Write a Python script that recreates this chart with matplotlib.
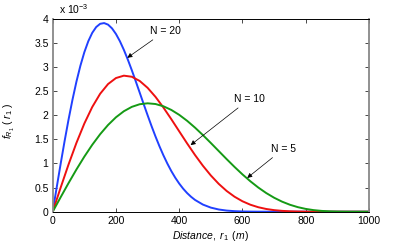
#!/usr/bin/env python3
"""Nearest-node distance pdf f_R1(r1) for N = 20, 10, 5."""
import matplotlib
matplotlib.use("Agg")
import matplotlib.pyplot as plt
from matplotlib.ticker import FuncFormatter

# distance samples (m) and pdf values (units of 1e-3)
r1 = [0, 25, 50, 75, 100, 125, 150, 175, 200, 225, 250, 275, 300, 325, 350,
      375, 400, 425, 450, 475, 500, 525, 550, 575, 600, 625, 650, 675, 700,
      725, 750, 775, 800, 825, 850, 875, 900, 925, 950, 975, 1000]

# N = 20 is steep, so it is read at a finer step up to 450 m
r1_n20 = [0, 12.5, 25, 37.5, 50, 62.5, 75, 87.5, 100, 112.5, 125, 137.5, 150,
          162.5, 175, 187.5, 200, 212.5, 225, 237.5, 250, 262.5, 275, 287.5,
          300, 312.5, 325, 337.5, 350, 362.5, 375, 387.5, 400, 412.5, 425,
          437.5, 450, 475, 500, 525, 550, 575, 600, 625, 650, 675, 700, 725,
          750, 800, 900, 1000]

f_n20 = [0, 0.4985, 0.988, 1.4604, 1.907, 2.3208, 2.695, 3.0245, 3.305,
         3.5328, 3.707, 3.8270, 3.894, 3.9092, 3.877, 3.7997, 3.683, 3.5329,
         3.354, 3.1524, 2.934, 2.7043, 2.469, 2.2326, 2.000, 1.7741, 1.559,
         1.3566, 1.169, 0.9975, 0.842, 0.7043, 0.583, 0.4769, 0.386, 0.3090,
         0.244, 0.1475, 0.0846, 0.0459, 0.0234, 0.0112, 0.0050, 0.0021,
         0.0008, 0.0003, 0.0001, 0, 0, 0, 0, 0]

f_n10 = [0, 0.4972, 0.9777, 1.4257, 1.8271, 2.1696, 2.4444, 2.6454, 2.7701,
         2.8194, 2.7971, 2.7102, 2.5676, 2.3801, 2.1593, 1.9174, 1.6657,
         1.4150, 1.1744, 0.9512, 0.7508, 0.5766, 0.4298, 0.3103, 0.2162,
         0.1448, 0.0929, 0.0567, 0.0327, 0.0176, 0.0088, 0.0040, 0.0016,
         0.0006, 0.0002, 0, 0, 0, 0, 0, 0]

f_n5 = [0, 0.2991, 0.5925, 0.8750, 1.1412, 1.3864, 1.6064, 1.7975, 1.9569,
        2.0824, 2.1726, 2.2272, 2.2465, 2.2318, 2.1852, 2.1092, 2.0074,
        1.8836, 1.7420, 1.5872, 1.4238, 1.2566, 1.0895, 0.9272, 0.7731,
        0.6302, 0.5010, 0.3872, 0.2898, 0.2090, 0.1443, 0.0945, 0.0580,
        0.0329, 0.0168, 0.0074, 0.0027, 0.0007, 0.0001, 0, 0]

x_ticks = [0, 200, 400, 600, 800, 1000]
y_ticks = [0, 0.5, 1, 1.5, 2, 2.5, 3, 3.5, 4]

plt.rcParams["font.family"] = ["Liberation Sans", "DejaVu Sans"]
plt.rcParams["mathtext.fontset"] = "custom"
plt.rcParams["mathtext.rm"] = "Liberation Sans"
plt.rcParams["mathtext.it"] = "Liberation Sans:italic"

fig = plt.figure(figsize=(4.07, 2.46), dpi=100)
ax = fig.add_axes([0.1295, 0.1394, 0.7771, 0.7846])

ax.plot(r1_n20, f_n20, color="#2040ff", lw=1.4)
ax.plot(r1, f_n10, color="#ee1010", lw=1.4)
ax.plot(r1, f_n5, color="#159a15", lw=1.4)

ax.set_xlim(0, 1000)
ax.set_ylim(0, 4)
ax.set_xticks(x_ticks)
ax.set_yticks(y_ticks)
ax.yaxis.set_major_formatter(FuncFormatter(lambda v, p: f"{v:g}"))
ax.tick_params(direction="in", top=True, right=True, length=3, width=0.5,
               labelsize=7.5, pad=3)

for side in ("left", "right"):
    ax.spines[side].set_color("#888888")
    ax.spines[side].set_linewidth(1.3)
for side in ("top", "bottom"):
    ax.spines[side].set_color("black")
    ax.spines[side].set_linewidth(0.7)

ax.text(0.02, 1.012, r"x 10$^{-3}$", transform=ax.transAxes, fontsize=7.5,
        ha="left", va="bottom")

ax.set_xlabel(r"$Distance,\ r_{1}\ \,(m)$", fontsize=7.5, labelpad=2)
ax.set_ylabel(r"$f_{R_{1}}\ (\ r_{1}\ )$", fontsize=7.5)
ax.yaxis.set_label_coords(-0.112, 0.47)

arrow = dict(arrowstyle="-|>", color="black", lw=0.5, mutation_scale=7,
             shrinkA=1, shrinkB=0)
ax.annotate("N = 20", xy=(236, 3.19), xytext=(355, 3.74), fontsize=7.5,
            ha="center", va="center", arrowprops=arrow)
ax.annotate("N = 10", xy=(436, 1.38), xytext=(621, 2.33), fontsize=7.5,
            ha="center", va="center", arrowprops=arrow)
ax.annotate("N = 5", xy=(615, 0.70), xytext=(729, 1.30), fontsize=7.5,
            ha="center", va="center", arrowprops=arrow)

fig.savefig("out.png", dpi=100)
print("Saved out.png")
